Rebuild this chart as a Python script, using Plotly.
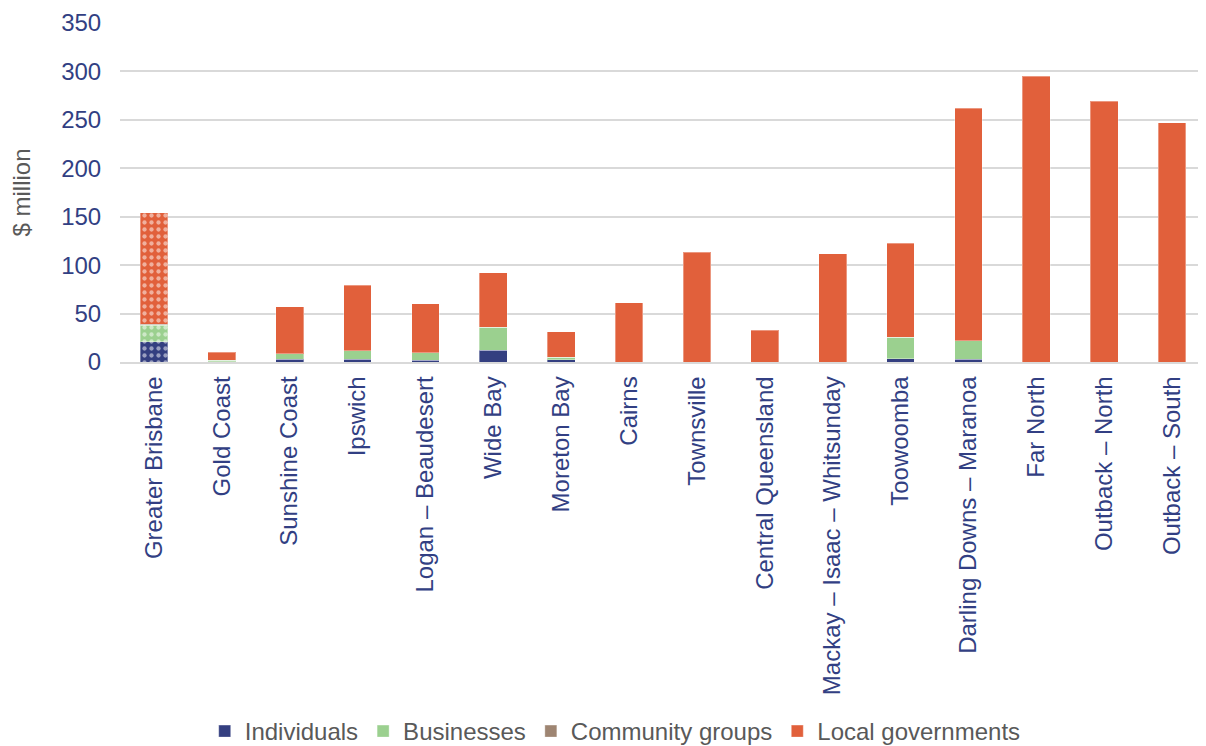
import plotly.graph_objects as go

regions = ["Greater Brisbane", "Gold Coast", "Sunshine Coast", "Ipswich",
           "Logan – Beaudesert", "Wide Bay", "Moreton Bay", "Cairns",
           "Townsville", "Central Queensland", "Mackay – Isaac – Whitsunday",
           "Toowoomba", "Darling Downs – Maranoa", "Far North",
           "Outback – North", "Outback – South"]

individuals = [21, 0.5, 3, 3, 2, 12, 2.5, 0, 0, 0, 0, 3.5, 2.7, 0, 0, 0]
businesses = [17, 1.5, 5.5, 8.5, 7.5, 24, 2.5, 0, 0, 0, 0, 22, 19, 0, 0, 0]
community_groups = [1, 0, 0, 0, 0, 0, 0, 0, 0, 0, 0, 0, 0, 0, 0, 0]
local_governments = [115, 8, 48.5, 67.5, 50.5, 56, 26, 61, 113.5, 32.7, 111.7,
                     97, 240.3, 295, 269, 247]

series = [
    ("Individuals", individuals, "#343f80"),
    ("Businesses", businesses, "#9bd08f"),
    ("Community groups", community_groups, "#9e8572"),
    ("Local governments", local_governments, "#e1603b"),
]

edge = dict(color="rgba(255,255,255,0.35)", width=1)

fig = go.Figure()
# Greater Brisbane (first region) drawn with a patterned fill
for name, vals, col in series:
    fig.add_trace(go.Bar(
        x=regions[:1], y=vals[:1], name=name, legendgroup=name, showlegend=False,
        marker=dict(color=col, line=edge,
                    pattern=dict(shape=".", fgcolor="white", bgcolor=col,
                                 size=7, solidity=0.3)),
    ))
# Remaining regions, solid fill
for name, vals, col in series:
    fig.add_trace(go.Bar(
        x=regions[1:], y=vals[1:], name=name, legendgroup=name,
        marker=dict(color=col, line=edge),
    ))

FS = 24
# page body has an 8px default margin, so the figure is sized to fit the window
fig.update_layout(
    barmode="stack",
    bargap=0.59,
    width=1198, height=738,
    margin=dict(l=112, r=0, t=15, b=384, autoexpand=False),
    paper_bgcolor="white", plot_bgcolor="white",
    font=dict(family="Liberation Sans, Arial, sans-serif", size=FS, color="#323f83"),
    showlegend=True,
    legend=dict(
        orientation="h", traceorder="normal",
        x=0.456, xanchor="center", y=-1.09, yanchor="middle",
        font=dict(size=FS, color="#595959"),
        itemwidth=30,
    ),
    yaxis=dict(
        range=[0, 350], dtick=50,
        showgrid=True, gridcolor="#d9d9d9", gridwidth=1.5,
        zeroline=False, showline=False,
        ticks="outside", ticklen=13, tickcolor="rgba(0,0,0,0)",
        tickfont=dict(size=FS, color="#323f83"),
        title=dict(text="$ million", font=dict(size=FS, color="#595959"), standoff=27),
    ),
    xaxis=dict(
        tickangle=-90,
        categoryorder="array", categoryarray=regions,
        showgrid=False, showline=True, linecolor="#d9d9d9", linewidth=1.5,
        ticks="outside", ticklen=3, tickcolor="rgba(0,0,0,0)",
        tickfont=dict(size=FS, color="#323f83"),
    ),
)

fig.write_html("out.html")
